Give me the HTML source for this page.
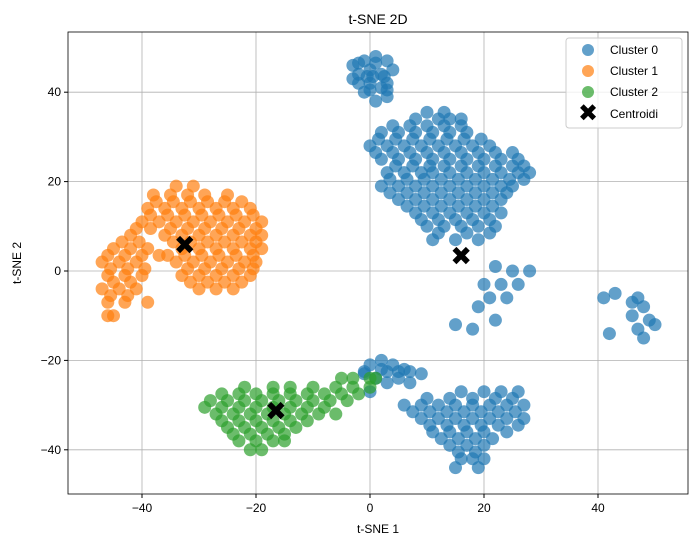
<!DOCTYPE html>
<html><head><meta charset="utf-8"><style>
body{margin:0;background:#fff;font-family:"Liberation Sans","DejaVu Sans",sans-serif}
</style></head><body>
<svg id="chart" width="698" height="547" xmlns="http://www.w3.org/2000/svg" font-family="Liberation Sans, DejaVu Sans, sans-serif">
<g id="grid"></g>
<g id="pts"></g>
<rect x="68" y="32" width="620" height="462" fill="none" stroke="#000" stroke-width="0.8"/>
<g id="ticks" font-size="12"></g>
<text x="378" y="24" text-anchor="middle" font-size="14">t-SNE 2D</text>
<text x="378" y="533" text-anchor="middle" font-size="12">t-SNE 1</text>
<text x="21" y="263" text-anchor="middle" font-size="12" transform="rotate(-90 21 263)">t-SNE 2</text>
<g>
<rect x="566" y="38" width="116" height="90" rx="3" fill="#fff" fill-opacity="0.8" stroke="#ccc"/>
<circle cx="588" cy="50" r="6" fill="#1f77b4" fill-opacity="0.7"/><text x="610" y="54" font-size="12">Cluster 0</text>
<circle cx="588" cy="71" r="6" fill="#ff7f0e" fill-opacity="0.7"/><text x="610" y="75" font-size="12">Cluster 1</text>
<circle cx="588" cy="92" r="6" fill="#2ca02c" fill-opacity="0.7"/><text x="610" y="96" font-size="12">Cluster 2</text>
<text x="588" y="121" font-size="24" text-anchor="middle" font-weight="bold">✖</text><text x="610" y="118" font-size="12">Centroidi</text>
</g>
</svg>
<script>
const xTicks=[-40,-20,0,20,40];
const yTicks=[-40,-20,0,20,40];
const c0Rows=[[48,[1]],[47,[-1,3]],[46,[-3]],[45,[0,4]],[44,[-2,2]],[43,[-3]],[42,[-2,0,3]],[41,[2]],[40,[-1]],[39,[3]],[38,[1]],
[46.5,[1,-2]],[43.5,[0.5,-0.5,2.5]],[40.5,[0,3]],
[34,[8,12,14,16]],[31,[2,5,8,11,14,17]],[28,[0,3,6,9,12,15,18,21]],[25,[2,5,8,11,14,17,20,23,26]],[22,[3,6,9,11,14,17,20,23,26,28]],
[19,[2,5,8,11,14,17,20,23,25]],[16,[5,8,11,14,17,20,23]],[13,[8,11,14,17,20,23]],[10,[10,13,16,19,22]],[7,[11,15,19]],
[35.5,[10,13]],[32.5,[4,7,10,13,16]],[29.5,[1.5,4.5,7.5,10.5,13.5,16.5,19.5]],[26.5,[1,4,7,10,13,16,19,22,25]],[23.5,[4.5,7.5,10.5,13,16,19,22,25,27]],
[20.5,[3.5,6.5,9.5,12.5,15.5,18.5,21.5,24.5,27]],[17.5,[3.5,6.5,9.5,12.5,15.5,18.5,21.5,24]],[14.5,[6.5,9.5,12.5,15.5,18.5,21.5]],[11.5,[9,12,15,18,21]],[8.5,[12,17,21]],
[1,[22]],[0,[25,28]],[-3,[20,23,26]],[-6,[21,24,41,47]],[-5,[43]],[-7,[46]],[-8,[19,48]],[-10,[46]],[-11,[22,49]],[-12,[15,50]],[-13,[18,47]],[-14,[42]],[-15,[48]],
[-20,[2]],[-21,[0,4]],[-22,[2,6]],[-23,[-1,9]],[-24,[1,5]],[-25,[3,7]],[-22.5,[-1,3,5,7]],
[-27,[0,16,20,23,26]],[-30,[6,9,12,15,18,21,24,27]],[-33,[9,12,15,18,21,24,27]],
[-36,[11,14,17,20,24]],[-39,[14,17,20]],[-42,[16,18,20]],[-44,[15,19]],
[-28.5,[10,14,18,22,25]],[-31.5,[7.5,10.5,13.5,16.5,19.5,22.5,25.5]],[-34.5,[10.5,13.5,16.5,19.5,22.5,26]],[-37.5,[12.5,15.5,18.5,21.5]],[-40.5,[15.5,18.5]]];
const c1Rows=[[19,[-34,-31]],[17,[-38,-35,-32,-29,-25]],[14,[-39,-36,-33,-30,-27,-24,-21]],[11,[-40,-37,-34,-31,-28,-25,-22,-19]],
[8,[-42,-36,-33,-30,-27,-24,-21,-19]],[5,[-45,-42,-39,-33,-30,-27,-24,-21,-19]],[2,[-47,-44,-41,-34,-31,-28,-25,-22,-20]],
[-1,[-46,-43,-40,-33,-30,-27,-24,-21]],[-4,[-47,-44,-41,-30,-27,-24]],[-7,[-46,-43,-39]],[-10,[-46,-45]],
[15.5,[-37.5,-34.5,-31.5,-28.5,-25.5,-22.5]],[12.5,[-38.5,-35.5,-32.5,-29.5,-26.5,-23.5,-20.5]],[9.5,[-41,-38.5,-35,-32,-29,-26,-23,-20]],
[6.5,[-43.5,-40.5,-34.5,-31.5,-28.5,-25.5,-22.5,-20]],[3.5,[-46,-43,-40,-37,-35.5,-32.5,-29.5,-26.5,-23.5,-20.5]],[0.5,[-45.5,-42.5,-39.5,-32,-29,-26,-23,-20.5]],
[-2.5,[-45,-42,-31.5,-28.5,-25.5,-22.5]],[-5.5,[-45.5,-42.5]]];
const c2Rows=[[-24,[-5,-3,0,1]],[-26,[-22,-17,-14,-10,-6,-3,0]],[-29,[-28,-25,-22,-19,-16,-13,-10,-7,-4]],[-32,[-27,-24,-21,-18,-15,-12,-9,-6]],
[-35,[-25,-22,-19,-16,-13]],[-38,[-23,-20,-17,-15]],[-40,[-21,-19]],
[-27.5,[-26,-23,-20,-17,-14,-11,-8,-5,-2]],[-30.5,[-29,-26,-23,-20,-17,-14,-11,-8]],[-33.5,[-26,-23,-20,-17,-14,-11]],[-36.5,[-24,-21,-18,-15]]];
const centX=[16,-32.5,-16.5];
const centY=[3.3,5.8,-31.3];
const NS='http://www.w3.org/2000/svg';
const X=v=>370+v*5.7, Y=v=>271-v*4.47;
const grid=document.getElementById('grid'),tk=document.getElementById('ticks'),pts=document.getElementById('pts');
function mk(t,a,p){const e=document.createElementNS(NS,t);for(const k in a)e.setAttribute(k,a[k]);p.appendChild(e);return e;}
xTicks.forEach(v=>{const l=mk('line',{x1:X(v),x2:X(v),y1:32,y2:494,stroke:'#b0b0b0','stroke-width':0.8},grid);


mk('line',{x1:X(v),x2:X(v),y1:494,y2:498,stroke:'#000'},tk);
const t=mk('text',{x:X(v),y:512,'text-anchor':'middle'},tk);t.textContent=v<0?'−'+(-v):v;

});
yTicks.forEach(v=>{const l=mk('line',{x1:68,x2:688,y1:Y(v),y2:Y(v),stroke:'#b0b0b0','stroke-width':0.8},grid);


mk('line',{x1:64,x2:68,y1:Y(v),y2:Y(v),stroke:'#000'},tk);
const t=mk('text',{x:61,y:Y(v)+4,'text-anchor':'end'},tk);t.textContent=v<0?'−'+(-v):v;

});
[[c0Rows,'#1f77b4','cluster-0-point'],[c1Rows,'#ff7f0e','cluster-1-point'],[c2Rows,'#2ca02c','cluster-2-point']].forEach(([rows,col,nm])=>{
rows.forEach(([y,xs])=>xs.forEach(x=>{const c=mk('circle',{cx:X(x),cy:Y(y),r:6.5,fill:col,'fill-opacity':0.7},pts);

}));});
centX.forEach((x,i)=>{const t=mk('text',{x:X(x),y:Y(centY[i])+9,'text-anchor':'middle','font-size':26,'font-weight':'bold'},pts);t.textContent='✖';

});
</script>
</body></html>
